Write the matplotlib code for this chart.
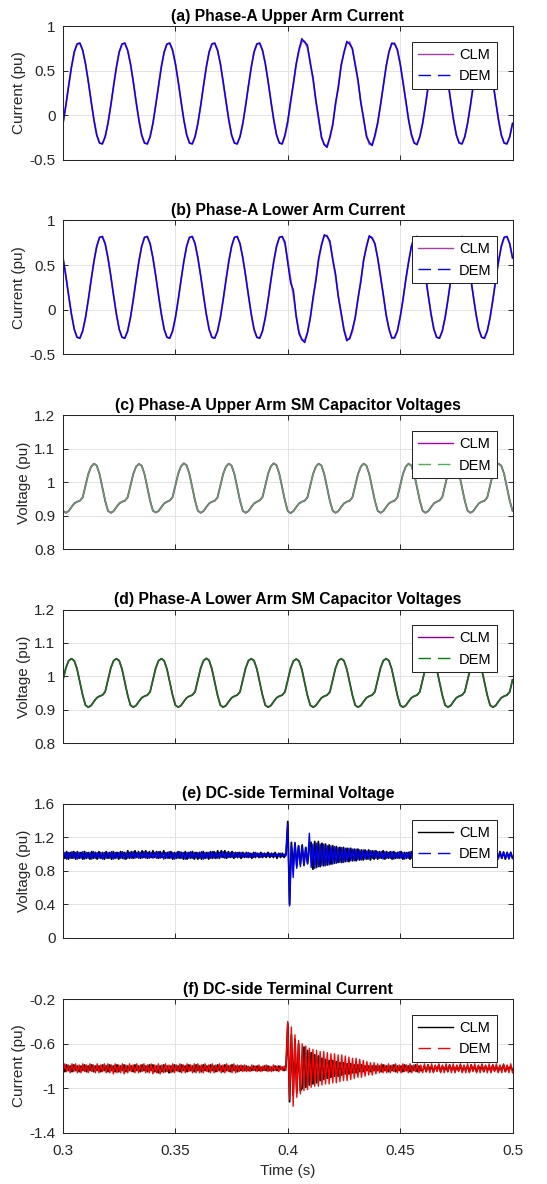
import numpy as np
import matplotlib
matplotlib.use("Agg")
import matplotlib.pyplot as plt
from matplotlib.lines import Line2D

plt.rcParams['font.family'] = ['Liberation Sans', 'DejaVu Sans']
plt.rcParams['axes.unicode_minus'] = False

# time bases: 16 samples per 20 ms cycle for the ac panels, 0.8 ms step for the dc panels
t_ac = np.linspace(0.3, 0.5, 161)
t_dc = np.linspace(0.3, 0.5, 251)

# (a) upper arm current, one line per cycle
ia_clm = [
    -0.09, 0.11, 0.33, 0.54, 0.71, 0.80, 0.81, 0.73, 0.58, 0.38, 0.16, -0.05, -0.22, -0.31, -0.32, -0.24,
    -0.09, 0.11, 0.33, 0.54, 0.71, 0.80, 0.81, 0.73, 0.58, 0.38, 0.15, -0.05, -0.22, -0.31, -0.32, -0.24,
    -0.09, 0.12, 0.33, 0.55, 0.71, 0.80, 0.81, 0.73, 0.58, 0.38, 0.16, -0.05, -0.21, -0.31, -0.32, -0.24,
    -0.09, 0.11, 0.33, 0.54, 0.71, 0.80, 0.81, 0.73, 0.58, 0.37, 0.16, -0.05, -0.22, -0.31, -0.32, -0.24,
    -0.09, 0.11, 0.33, 0.54, 0.71, 0.80, 0.81, 0.73, 0.58, 0.38, 0.16, -0.05, -0.22, -0.31, -0.32, -0.23,
    -0.08, 0.14, 0.35, 0.57, 0.73, 0.83, 0.83, 0.76, 0.60, 0.40, 0.16, -0.05, -0.24, -0.33, -0.34, -0.25,
    -0.10, 0.12, 0.33, 0.55, 0.71, 0.81, 0.82, 0.74, 0.58, 0.38, 0.15, -0.05, -0.22, -0.32, -0.33, -0.24,
    -0.09, 0.11, 0.33, 0.54, 0.71, 0.80, 0.81, 0.73, 0.58, 0.38, 0.16, -0.05, -0.22, -0.31, -0.32, -0.24,
    -0.09, 0.11, 0.33, 0.54, 0.71, 0.80, 0.81, 0.73, 0.58, 0.38, 0.16, -0.05, -0.22, -0.31, -0.32, -0.24,
    -0.09, 0.11, 0.33, 0.54, 0.71, 0.80, 0.81, 0.73, 0.58, 0.38, 0.16, -0.05, -0.22, -0.31, -0.32, -0.24,
    -0.09]
ia_dem = [
    -0.09, 0.11, 0.33, 0.54, 0.71, 0.80, 0.81, 0.73, 0.58, 0.38, 0.16, -0.05, -0.22, -0.31, -0.32, -0.24,
    -0.09, 0.11, 0.33, 0.54, 0.71, 0.80, 0.81, 0.73, 0.58, 0.38, 0.16, -0.05, -0.22, -0.31, -0.32, -0.24,
    -0.09, 0.11, 0.33, 0.54, 0.71, 0.80, 0.81, 0.73, 0.58, 0.38, 0.16, -0.05, -0.22, -0.31, -0.32, -0.24,
    -0.09, 0.11, 0.33, 0.54, 0.71, 0.80, 0.81, 0.73, 0.58, 0.38, 0.16, -0.05, -0.22, -0.31, -0.32, -0.24,
    -0.09, 0.11, 0.33, 0.54, 0.71, 0.80, 0.81, 0.73, 0.58, 0.38, 0.16, -0.05, -0.22, -0.31, -0.32, -0.22,
    -0.06, 0.16, 0.36, 0.58, 0.74, 0.86, 0.82, 0.79, 0.58, 0.42, 0.17, -0.03, -0.25, -0.33, -0.36, -0.24,
    -0.11, 0.14, 0.31, 0.57, 0.70, 0.83, 0.80, 0.75, 0.56, 0.40, 0.14, -0.03, -0.24, -0.30, -0.34, -0.22,
    -0.08, 0.12, 0.33, 0.55, 0.71, 0.81, 0.80, 0.74, 0.58, 0.37, 0.17, -0.05, -0.21, -0.31, -0.33, -0.24,
    -0.09, 0.11, 0.33, 0.54, 0.71, 0.80, 0.81, 0.73, 0.58, 0.38, 0.16, -0.05, -0.22, -0.31, -0.32, -0.24,
    -0.09, 0.11, 0.33, 0.54, 0.71, 0.80, 0.81, 0.73, 0.58, 0.38, 0.16, -0.05, -0.22, -0.31, -0.32, -0.24,
    -0.09]

# (b) lower arm current
ib_clm = [
    0.58, 0.38, 0.16, -0.05, -0.22, -0.31, -0.32, -0.24, -0.09, 0.11, 0.33, 0.54, 0.71, 0.81, 0.82, 0.74,
    0.58, 0.38, 0.16, -0.05, -0.22, -0.31, -0.32, -0.24, -0.09, 0.11, 0.33, 0.54, 0.71, 0.81, 0.82, 0.74,
    0.58, 0.38, 0.16, -0.05, -0.22, -0.31, -0.32, -0.24, -0.09, 0.11, 0.33, 0.54, 0.71, 0.81, 0.82, 0.74,
    0.58, 0.38, 0.16, -0.05, -0.22, -0.31, -0.32, -0.24, -0.09, 0.11, 0.33, 0.54, 0.71, 0.81, 0.82, 0.74,
    0.58, 0.38, 0.16, -0.05, -0.22, -0.31, -0.32, -0.24, -0.09, 0.11, 0.33, 0.54, 0.71, 0.81, 0.82, 0.74,
    0.55, 0.34, 0.17, -0.07, -0.25, -0.34, -0.35, -0.26, -0.09, 0.12, 0.34, 0.56, 0.73, 0.83, 0.83, 0.75,
    0.57, 0.38, 0.15, -0.05, -0.22, -0.33, -0.33, -0.24, -0.09, 0.12, 0.33, 0.55, 0.71, 0.82, 0.81, 0.74,
    0.58, 0.38, 0.16, -0.05, -0.22, -0.31, -0.32, -0.24, -0.09, 0.11, 0.33, 0.54, 0.71, 0.81, 0.82, 0.74,
    0.58, 0.38, 0.16, -0.05, -0.22, -0.31, -0.32, -0.24, -0.09, 0.11, 0.33, 0.54, 0.71, 0.81, 0.82, 0.74,
    0.58, 0.38, 0.16, -0.05, -0.22, -0.31, -0.32, -0.24, -0.09, 0.11, 0.33, 0.54, 0.71, 0.81, 0.82, 0.74,
    0.58]
ib_dem = [
    0.58, 0.38, 0.16, -0.05, -0.22, -0.31, -0.32, -0.24, -0.09, 0.11, 0.33, 0.54, 0.71, 0.81, 0.82, 0.74,
    0.58, 0.38, 0.16, -0.05, -0.22, -0.31, -0.32, -0.24, -0.09, 0.11, 0.33, 0.54, 0.71, 0.81, 0.82, 0.74,
    0.58, 0.38, 0.16, -0.05, -0.22, -0.31, -0.32, -0.24, -0.09, 0.11, 0.33, 0.54, 0.71, 0.81, 0.82, 0.74,
    0.58, 0.38, 0.16, -0.05, -0.22, -0.31, -0.32, -0.24, -0.09, 0.11, 0.33, 0.54, 0.71, 0.81, 0.82, 0.74,
    0.58, 0.38, 0.16, -0.05, -0.22, -0.31, -0.32, -0.24, -0.09, 0.11, 0.33, 0.54, 0.71, 0.81, 0.82, 0.76,
    0.52, 0.30, 0.22, -0.08, -0.27, -0.33, -0.37, -0.26, -0.10, 0.14, 0.32, 0.58, 0.72, 0.84, 0.82, 0.77,
    0.56, 0.40, 0.14, -0.03, -0.23, -0.35, -0.32, -0.22, -0.09, 0.13, 0.31, 0.56, 0.70, 0.83, 0.80, 0.74,
    0.58, 0.37, 0.17, -0.06, -0.21, -0.32, -0.31, -0.24, -0.08, 0.11, 0.34, 0.53, 0.71, 0.81, 0.82, 0.73,
    0.58, 0.38, 0.16, -0.05, -0.22, -0.31, -0.32, -0.24, -0.09, 0.11, 0.33, 0.54, 0.71, 0.81, 0.82, 0.74,
    0.58, 0.38, 0.16, -0.05, -0.22, -0.31, -0.32, -0.24, -0.09, 0.11, 0.33, 0.54, 0.71, 0.81, 0.82, 0.74,
    0.58]

# (c) upper arm SM capacitor voltage (CLM and DEM overlap)
vcu_clm = [
    0.915, 0.909, 0.914, 0.926, 0.937, 0.942, 0.945, 0.955, 0.990, 1.025, 1.047, 1.056, 1.050, 1.025, 0.985, 0.945,
    0.915, 0.909, 0.914, 0.926, 0.937, 0.942, 0.945, 0.955, 0.990, 1.025, 1.047, 1.055, 1.050, 1.025, 0.985, 0.945,
    0.915, 0.910, 0.914, 0.926, 0.937, 0.942, 0.946, 0.956, 0.991, 1.026, 1.048, 1.057, 1.051, 1.025, 0.985, 0.945,
    0.915, 0.909, 0.914, 0.926, 0.937, 0.942, 0.945, 0.955, 0.990, 1.025, 1.047, 1.056, 1.050, 1.025, 0.985, 0.945,
    0.915, 0.909, 0.914, 0.926, 0.937, 0.942, 0.946, 0.956, 0.990, 1.026, 1.048, 1.057, 1.051, 1.025, 0.985, 0.945,
    0.914, 0.908, 0.914, 0.926, 0.937, 0.942, 0.945, 0.955, 0.990, 1.025, 1.047, 1.056, 1.050, 1.024, 0.984, 0.944,
    0.915, 0.909, 0.914, 0.926, 0.937, 0.942, 0.945, 0.955, 0.990, 1.025, 1.047, 1.056, 1.050, 1.025, 0.985, 0.945,
    0.915, 0.909, 0.914, 0.926, 0.937, 0.942, 0.945, 0.955, 0.990, 1.025, 1.047, 1.056, 1.050, 1.025, 0.985, 0.945,
    0.915, 0.909, 0.914, 0.926, 0.937, 0.942, 0.946, 0.956, 0.991, 1.026, 1.048, 1.057, 1.051, 1.025, 0.985, 0.945,
    0.915, 0.909, 0.914, 0.926, 0.937, 0.942, 0.945, 0.955, 0.990, 1.025, 1.047, 1.056, 1.050, 1.025, 0.985, 0.945,
    0.915]
vcu_dem = list(vcu_clm)

# (d) lower arm SM capacitor voltage
vcl_clm = [
    0.990, 1.025, 1.047, 1.053, 1.047, 1.022, 0.983, 0.944, 0.914, 0.908, 0.913, 0.925, 0.936, 0.941, 0.944, 0.954,
    0.990, 1.025, 1.047, 1.053, 1.047, 1.022, 0.983, 0.944, 0.914, 0.908, 0.913, 0.925, 0.936, 0.941, 0.944, 0.954,
    0.990, 1.025, 1.047, 1.053, 1.047, 1.022, 0.983, 0.944, 0.914, 0.908, 0.913, 0.925, 0.936, 0.941, 0.944, 0.954,
    0.990, 1.025, 1.047, 1.054, 1.048, 1.022, 0.983, 0.944, 0.914, 0.908, 0.913, 0.925, 0.936, 0.941, 0.944, 0.954,
    0.990, 1.025, 1.047, 1.053, 1.047, 1.022, 0.983, 0.944, 0.914, 0.908, 0.913, 0.925, 0.936, 0.941, 0.944, 0.954,
    0.989, 1.024, 1.046, 1.052, 1.046, 1.021, 0.982, 0.943, 0.914, 0.908, 0.913, 0.925, 0.936, 0.941, 0.944, 0.954,
    0.990, 1.025, 1.047, 1.053, 1.047, 1.022, 0.983, 0.944, 0.914, 0.908, 0.913, 0.925, 0.936, 0.941, 0.944, 0.954,
    0.990, 1.025, 1.047, 1.053, 1.047, 1.022, 0.983, 0.944, 0.914, 0.908, 0.913, 0.925, 0.936, 0.941, 0.944, 0.954,
    0.990, 1.025, 1.047, 1.053, 1.047, 1.022, 0.983, 0.944, 0.914, 0.908, 0.913, 0.925, 0.936, 0.941, 0.944, 0.954,
    0.990, 1.025, 1.047, 1.053, 1.047, 1.022, 0.983, 0.944, 0.914, 0.908, 0.913, 0.925, 0.936, 0.941, 0.944, 0.954,
    0.990]
vcl_dem = list(vcl_clm)

# (e) dc-side terminal voltage, one line per 20 ms
vdc_clm = [
    1.02, 0.95, 1.03, 0.94, 1.02, 0.95, 1.03, 0.94, 1.03, 0.95, 1.02, 0.94, 1.03, 0.95, 1.02, 0.94, 1.03, 0.95, 1.02, 0.94, 1.03, 0.95, 1.02, 0.94, 1.03,
    0.95, 1.02, 0.94, 1.03, 0.95, 1.02, 0.94, 1.03, 0.95, 1.02, 0.94, 1.04, 0.95, 1.03, 0.95, 1.04, 0.96, 1.03, 0.95, 1.04, 0.96, 1.04, 0.95, 1.03, 0.96,
    1.04, 0.96, 1.03, 0.95, 1.03, 0.96, 1.04, 0.95, 1.02, 0.95, 1.03, 0.94, 1.02, 0.95, 1.03, 0.95, 1.02, 0.94, 1.03, 0.94, 1.02, 0.95, 1.03, 0.94, 1.02,
    0.94, 1.02, 0.94, 1.03, 0.95, 1.02, 0.94, 1.03, 0.95, 1.03, 0.95, 1.04, 0.95, 1.04, 0.96, 1.04, 0.95, 1.03, 0.96, 1.03, 0.95, 1.02, 0.96, 1.02, 0.95,
    1.02, 0.96, 1.02, 0.96, 1.01, 0.95, 1.02, 0.96, 1.01, 0.96, 1.02, 0.96, 1.01, 0.96, 1.02, 0.96, 1.01, 0.96, 1.02, 0.95, 1.01, 0.96, 1.01, 0.96, 1.00,
    1.39, 0.40, 1.14, 0.84, 1.13, 0.86, 1.10, 0.88, 1.11, 0.87, 1.08, 0.89, 1.08, 1.14, 0.82, 1.15, 0.84, 1.15, 0.85, 1.13, 0.86, 1.12, 0.87, 1.11, 0.88,
    1.10, 0.89, 1.09, 0.90, 1.08, 0.90, 1.08, 0.91, 1.07, 0.91, 1.07, 0.92, 1.06, 0.92, 1.06, 0.93, 1.05, 0.93, 1.05, 0.94, 1.05, 0.93, 1.04, 0.94, 1.04,
    0.94, 1.03, 0.95, 1.04, 0.94, 1.03, 0.95, 1.03, 0.94, 1.03, 0.95, 1.02, 0.95, 1.03, 0.94, 1.02, 0.95, 1.02, 0.94, 1.03, 0.95, 1.02, 0.95, 1.02, 0.95,
    0.95, 1.02, 0.94, 1.02, 0.95, 1.02, 0.95, 1.03, 0.94, 1.02, 0.95, 1.02, 0.95, 1.02, 0.94, 1.03, 0.95, 1.02, 0.95, 1.02, 0.94, 1.02, 0.95, 1.03, 0.95,
    1.02, 0.95, 1.03, 0.94, 1.02, 0.95, 1.02, 0.95, 1.02, 0.94, 1.03, 0.95, 1.02, 0.95, 1.02, 0.94, 1.02, 0.95, 1.03, 0.95, 1.02, 0.94, 1.02, 0.95, 1.02,
    0.95]
vdc_dem = [
    0.95, 1.02, 0.94, 1.02, 0.95, 1.03, 0.95, 1.02, 0.94, 1.02, 0.95, 1.03, 0.94, 1.02, 0.95, 1.02, 0.94, 1.03, 0.95, 1.02, 0.95, 1.02, 0.94, 1.02, 0.95,
    1.02, 0.95, 1.03, 0.94, 1.02, 0.95, 1.02, 0.95, 1.03, 0.94, 1.02, 0.95, 1.02, 0.95, 1.03, 0.95, 1.02, 0.95, 1.02, 0.95, 1.03, 0.95, 1.02, 0.95, 1.02,
    0.95, 1.02, 0.95, 1.03, 0.95, 1.02, 0.94, 1.02, 0.95, 1.03, 0.95, 1.02, 0.94, 1.02, 0.95, 1.03, 0.95, 1.02, 0.94, 1.02, 0.95, 1.03, 0.95, 1.02, 0.95,
    1.02, 0.95, 1.03, 0.94, 1.02, 0.95, 1.02, 0.95, 1.03, 0.95, 1.02, 0.95, 1.02, 0.96, 1.03, 0.95, 1.02, 0.96, 1.02, 0.96, 1.02, 0.96, 1.02, 0.96, 1.02,
    0.96, 1.01, 0.96, 1.02, 0.96, 1.01, 0.96, 1.02, 0.97, 1.01, 0.96, 1.01, 0.97, 1.01, 0.97, 1.01, 0.97, 1.01, 0.97, 1.00, 0.97, 1.01, 0.97, 1.00, 0.98,
    1.36, 0.38, 1.10, 0.72, 1.14, 0.83, 1.10, 0.85, 1.10, 0.86, 1.08, 0.88, 1.25, 0.84, 1.12, 0.83, 1.13, 0.85, 1.12, 0.86, 1.12, 0.86, 1.10, 0.87, 1.10,
    0.88, 1.09, 0.89, 1.08, 0.90, 1.08, 0.90, 1.07, 0.91, 1.07, 0.92, 1.06, 0.92, 1.06, 0.93, 1.05, 0.93, 1.05, 0.94, 1.04, 0.94, 1.04, 0.95, 1.04, 0.95,
    1.03, 0.95, 1.03, 0.94, 1.03, 0.95, 1.02, 0.95, 1.03, 0.94, 1.02, 0.95, 1.03, 0.95, 1.02, 0.94, 1.02, 0.95, 1.03, 0.95, 1.02, 0.94, 1.02, 0.95, 1.03,
    0.95, 1.02, 0.94, 1.02, 0.95, 1.03, 0.95, 1.02, 0.94, 1.02, 0.95, 1.03, 0.94, 1.02, 0.95, 1.02, 0.95, 1.03, 0.94, 1.02, 0.95, 1.02, 0.95, 1.03, 0.94,
    1.02, 0.95, 1.03, 0.95, 1.02, 0.94, 1.02, 0.95, 1.03, 0.95, 1.02, 0.94, 1.02, 0.95, 1.03, 0.95, 1.02, 0.94, 1.02, 0.95, 1.03, 0.95, 1.02, 0.94, 1.02,
    0.95]

# (f) dc-side terminal current
idc_clm = [
    -0.80, -0.85, -0.79, -0.84, -0.80, -0.85, -0.79, -0.84, -0.80, -0.85, -0.80, -0.84, -0.79, -0.85, -0.80, -0.84, -0.79, -0.85, -0.80, -0.84, -0.80, -0.85, -0.79, -0.84, -0.80,
    -0.85, -0.79, -0.84, -0.80, -0.85, -0.79, -0.85, -0.80, -0.84, -0.79, -0.85, -0.80, -0.84, -0.80, -0.85, -0.79, -0.84, -0.80, -0.85, -0.79, -0.84, -0.80, -0.85, -0.79, -0.84,
    -0.79, -0.85, -0.80, -0.86, -0.80, -0.85, -0.79, -0.85, -0.80, -0.86, -0.80, -0.85, -0.79, -0.84, -0.80, -0.85, -0.79, -0.84, -0.80, -0.85, -0.79, -0.84, -0.80, -0.85, -0.79,
    -0.84, -0.80, -0.85, -0.79, -0.84, -0.80, -0.85, -0.79, -0.84, -0.80, -0.85, -0.79, -0.84, -0.80, -0.85, -0.79, -0.84, -0.80, -0.85, -0.79, -0.84, -0.80, -0.85, -0.80, -0.84,
    -0.80, -0.84, -0.80, -0.84, -0.81, -0.84, -0.80, -0.84, -0.80, -0.84, -0.81, -0.84, -0.80, -0.84, -0.80, -0.84, -0.81, -0.84, -0.80, -0.84, -0.80, -0.83, -0.81, -0.84, -0.81,
    -0.42, -1.12, -0.52, -1.06, -0.56, -1.04, -0.60, -1.02, -1.00, -0.63, -0.99, -0.66, -0.97, -0.68, -0.96, -0.70, -0.95, -0.71, -0.93, -0.73, -0.92, -0.74, -0.91, -0.75, -0.90,
    -0.75, -0.89, -0.76, -0.89, -0.77, -0.88, -0.77, -0.87, -0.78, -0.87, -0.78, -0.86, -0.79, -0.86, -0.79, -0.85, -0.79, -0.85, -0.80, -0.84, -0.80, -0.85, -0.80, -0.84, -0.80,
    -0.84, -0.80, -0.85, -0.79, -0.84, -0.80, -0.85, -0.80, -0.84, -0.79, -0.85, -0.80, -0.84, -0.80, -0.85, -0.79, -0.84, -0.80, -0.85, -0.80, -0.84, -0.79, -0.85, -0.80, -0.84,
    -0.84, -0.80, -0.85, -0.79, -0.84, -0.80, -0.85, -0.80, -0.84, -0.79, -0.85, -0.80, -0.84, -0.80, -0.85, -0.79, -0.84, -0.80, -0.85, -0.80, -0.84, -0.79, -0.85, -0.80, -0.84,
    -0.80, -0.85, -0.79, -0.84, -0.80, -0.85, -0.80, -0.84, -0.79, -0.85, -0.80, -0.84, -0.80, -0.85, -0.79, -0.84, -0.80, -0.85, -0.80, -0.84, -0.79, -0.85, -0.80, -0.84, -0.80,
    -0.84]
idc_dem = [
    -0.86, -0.78, -0.85, -0.79, -0.86, -0.78, -0.85, -0.78, -0.86, -0.79, -0.86, -0.78, -0.85, -0.79, -0.86, -0.78, -0.85, -0.79, -0.86, -0.78, -0.86, -0.79, -0.85, -0.78, -0.86,
    -0.78, -0.86, -0.79, -0.87, -0.78, -0.86, -0.79, -0.86, -0.78, -0.87, -0.79, -0.86, -0.78, -0.85, -0.79, -0.86, -0.78, -0.86, -0.79, -0.85, -0.78, -0.86, -0.79, -0.86, -0.78,
    -0.87, -0.79, -0.86, -0.78, -0.87, -0.79, -0.86, -0.78, -0.85, -0.79, -0.86, -0.78, -0.86, -0.79, -0.85, -0.78, -0.86, -0.79, -0.86, -0.78, -0.85, -0.79, -0.86, -0.78, -0.86,
    -0.78, -0.86, -0.79, -0.86, -0.78, -0.85, -0.79, -0.86, -0.78, -0.86, -0.79, -0.85, -0.78, -0.86, -0.79, -0.86, -0.78, -0.85, -0.79, -0.86, -0.78, -0.86, -0.79, -0.85, -0.79,
    -0.85, -0.79, -0.85, -0.80, -0.85, -0.79, -0.84, -0.80, -0.85, -0.79, -0.85, -0.80, -0.84, -0.79, -0.85, -0.80, -0.85, -0.79, -0.84, -0.80, -0.85, -0.80, -0.84, -0.80, -0.84,
    -0.40, -1.10, -0.45, -1.16, -0.52, -1.08, -0.57, -1.05, -0.60, -1.02, -0.62, -1.01, -0.64, -0.99, -0.65, -0.98, -0.66, -0.98, -0.67, -0.97, -0.67, -0.96, -0.68, -0.96, -0.69,
    -0.95, -0.69, -0.95, -0.70, -0.94, -0.70, -0.93, -0.71, -0.93, -0.72, -0.92, -0.73, -0.91, -0.73, -0.90, -0.74, -0.90, -0.75, -0.89, -0.76, -0.88, -0.77, -0.88, -0.77, -0.87,
    -0.78, -0.86, -0.78, -0.86, -0.79, -0.86, -0.78, -0.86, -0.79, -0.85, -0.78, -0.86, -0.79, -0.86, -0.78, -0.85, -0.79, -0.86, -0.78, -0.86, -0.79, -0.85, -0.78, -0.86, -0.79,
    -0.86, -0.78, -0.85, -0.79, -0.86, -0.78, -0.86, -0.79, -0.85, -0.78, -0.86, -0.79, -0.86, -0.78, -0.85, -0.79, -0.86, -0.78, -0.86, -0.79, -0.85, -0.78, -0.86, -0.79, -0.86,
    -0.78, -0.86, -0.79, -0.85, -0.78, -0.86, -0.79, -0.86, -0.78, -0.85, -0.79, -0.86, -0.78, -0.86, -0.79, -0.85, -0.78, -0.86, -0.79, -0.86, -0.78, -0.85, -0.79, -0.86, -0.78,
    -0.86]

x_ticks = [0.3, 0.35, 0.4, 0.45, 0.5]
x_labels = ['0.3', '0.35', '0.4', '0.45', '0.5']

panels = [
    # title, ylabel, t, clm, dem, clm colour, dem colour, yticks, ytick labels
    ("(a) Phase-A Upper Arm Current", "Current (pu)", t_ac, ia_clm, ia_dem, '#a63ca6', '#0000ff',
     [-0.5, 0, 0.5, 1], ['-0.5', '0', '0.5', '1']),
    ("(b) Phase-A Lower Arm Current", "Current (pu)", t_ac, ib_clm, ib_dem, '#a63ca6', '#0000ff',
     [-0.5, 0, 0.5, 1], ['-0.5', '0', '0.5', '1']),
    ("(c) Phase-A Upper Arm SM Capacitor Voltages", "Voltage (pu)", t_ac, vcu_clm, vcu_dem, '#b000b0', '#4caf50',
     [0.8, 0.9, 1.0, 1.1, 1.2], ['0.8', '0.9', '1', '1.1', '1.2']),
    ("(d) Phase-A Lower Arm SM Capacitor Voltages", "Voltage (pu)", t_ac, vcl_clm, vcl_dem, '#880088', '#008000',
     [0.8, 0.9, 1.0, 1.1, 1.2], ['0.8', '0.9', '1', '1.1', '1.2']),
    ("(e) DC-side Terminal Voltage", "Voltage (pu)", t_dc, vdc_clm, vdc_dem, '#000000', '#0000ff',
     [0, 0.4, 0.8, 1.2, 1.6], ['0', '0.4', '0.8', '1.2', '1.6']),
    ("(f) DC-side Terminal Current", "Current (pu)", t_dc, idc_clm, idc_dem, '#000000', '#ff0000',
     [-1.4, -1, -0.6, -0.2], ['-1.4', '-1', '-0.6', '-0.2']),
]

# axes boxes in figure fractions (top panel first)
bottoms = [0.8649, 0.7008, 0.5361, 0.3722, 0.2080, 0.0431]
left, width, height = 0.1152, 0.8218, 0.1130

txt = '#262626'
fig = plt.figure(figsize=(5.47, 11.84), dpi=100)

for i, (title, ylab, t, clm, dem, c1, c2, yt, ytl) in enumerate(panels):
    ax = fig.add_axes([left, bottoms[i], width, height])
    # dense traces: the dashed DEM trace reads as solid on top of CLM
    ax.plot(t, clm, color=c1, lw=1.3)
    ax.plot(t, dem, color=c2, lw=1.0)
    ax.set_xlim(0.3, 0.5)
    ax.set_ylim(yt[0], yt[-1])
    ax.set_yticks(yt)
    ax.set_yticklabels(ytl)
    ax.set_xticks(x_ticks)
    if i == len(panels) - 1:
        ax.set_xticklabels(x_labels)
        ax.set_xlabel("Time (s)", fontsize=11, color=txt, labelpad=4)
    else:
        ax.set_xticklabels([])
    ax.set_title(title, fontsize=11.3, fontweight='bold', color='black', pad=4)
    ax.set_ylabel(ylab, fontsize=11, color=txt, labelpad=2)
    ax.grid(True, color='#e3e3e3', lw=0.7)
    ax.set_axisbelow(True)
    ax.tick_params(direction='in', length=3.5, width=0.7, colors=txt, labelsize=11,
                   top=True, right=True)
    ax.tick_params(axis='y', pad=5.5)
    ax.tick_params(axis='x', pad=8)
    for s in ax.spines.values():
        s.set_color(txt)
        s.set_linewidth(0.75)
    handles = [Line2D([], [], color=c1, lw=1.0),
               Line2D([], [], color=c2, lw=1.0, dashes=(9, 5))]
    leg = ax.legend(handles, ['CLM', 'DEM'], loc='upper right', bbox_to_anchor=(0.966, 0.881),
                    borderaxespad=0, fontsize=10.5, fancybox=False, framealpha=1, edgecolor=txt,
                    handlelength=2.4, handletextpad=0.4)
    leg.get_frame().set_linewidth(0.75)

plt.savefig('out.png', dpi=100)
